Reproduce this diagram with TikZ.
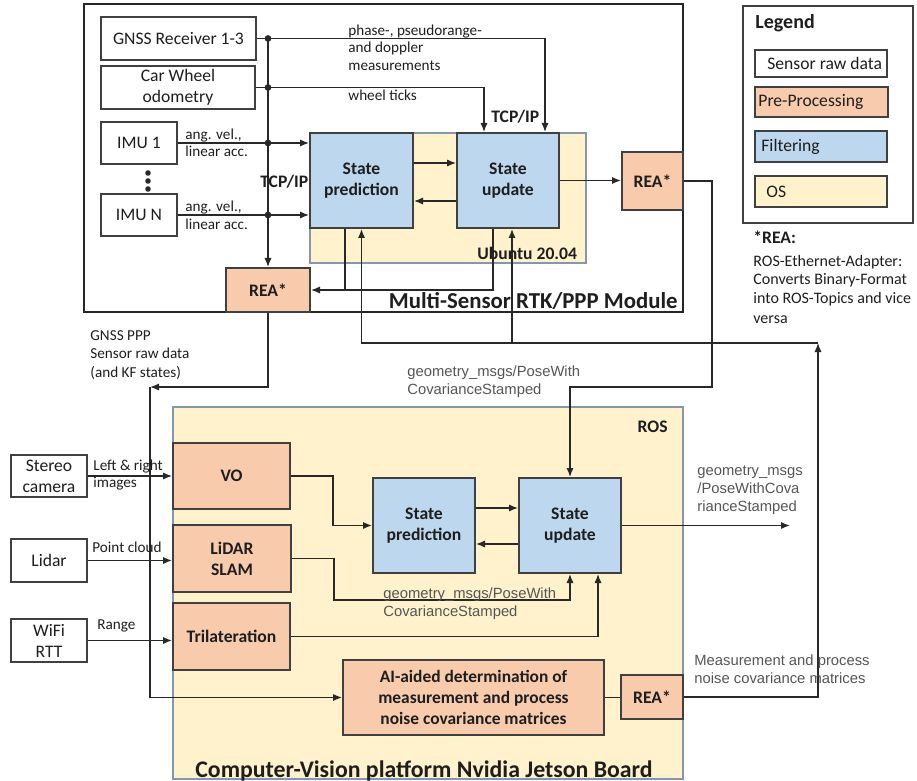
\documentclass[tikz,border=0pt]{standalone}
\usepackage{fontspec}
\setmainfont{Carlito}
\newfontfamily\arialf{Liberation Sans}
\usetikzlibrary{arrows.meta,calc}
\definecolor{preC}{RGB}{248,203,173}
\definecolor{filtC}{RGB}{189,215,238}
\definecolor{osC}{RGB}{255,242,204}
\definecolor{osB}{RGB}{132,151,176}
\definecolor{bordC}{RGB}{64,64,64}
\definecolor{lineC}{RGB}{40,40,40}
\definecolor{txtC}{RGB}{30,30,30}
\definecolor{grayT}{RGB}{85,85,85}
\newcommand\fsz[2]{\fontsize{#1}{#2}\selectfont}
\newcommand\rbox[7]{%
 \pgfmathsetmacro\rbX{(#3+#5)/2}%
 \pgfmathsetmacro\rbY{(#4+#6)/2}%
 \pgfmathsetmacro\rbW{(#5-#3)*0.5}%
 \pgfmathsetmacro\rbH{(#6-#4)*0.5}%
 \node[#1, minimum width=\rbW pt, minimum height=\rbH pt] (#2) at (\rbX,\rbY) {#7};}
\begin{document}
\begin{tikzpicture}[x=0.5pt,y=-0.5pt,
 raw/.style={draw=bordC, line width=1pt, fill=white, align=center, text=txtC, font=\fsz{8.8}{10.5}, inner sep=1pt},
 pre/.style={raw, fill=preC, font=\bfseries\fsz{8.8}{10.5}},
 filt/.style={raw, fill=filtC, font=\bfseries\fsz{8.8}{10.5}},
 osbox/.style={draw=osB, line width=0.9pt, fill=osC},
 modframe/.style={draw=black!85, line width=1pt},
 ln/.style={draw=lineC, line width=0.65pt},
 arr/.style={ln, -{Latex[length=4.5pt,width=3.6pt]}},
 lab/.style={anchor=base west, inner sep=0pt, text=txtC, font=\fsz{7.6}{9}},
 glab/.style={anchor=base west, inner sep=0pt, text=grayT, font=\arialf\fsz{7.4}{9}},
 blab/.style={anchor=base west, inner sep=0pt, text=txtC, font=\bfseries\fsz{8.8}{10.5}},
 ttl/.style={anchor=base west, inner sep=0pt, text=txtC, font=\bfseries\fsz{11.4}{13}},
 dotc/.style={fill=lineC}
]
\useasboundingbox (0,0) rectangle (917,781);
% containers
\rbox{modframe}{mod}{84}{4}{683}{312}{}
\rbox{osbox}{ubu}{310}{133}{586}{263}{}
\rbox{osbox}{ros}{173}{407}{683}{779}{}
\rbox{modframe, draw=bordC}{leg}{743}{6}{913}{223}{}
% sensor boxes
\rbox{raw}{gnss}{101}{17}{256}{60}{GNSS Receiver 1-3}
\rbox{raw}{odo}{101}{66}{255}{109}{Car Wheel\\odometry}
\rbox{raw}{imu1}{101}{122}{177}{164}{IMU 1}
\rbox{raw}{imun}{101}{194}{177}{236}{IMU N}
\rbox{filt}{sp1}{310}{133}{413}{228}{State\\prediction}
\rbox{filt}{su1}{457}{133}{559}{228}{State\\update}
\rbox{pre}{rea1}{226}{268}{310}{312}{REA*}
\rbox{pre}{rea2}{622}{152}{683}{210}{REA*}
\rbox{raw}{stereo}{11}{455}{87}{497}{Stereo\\camera}
\rbox{raw}{lidar}{11}{539}{87}{582}{Lidar}
\rbox{raw}{wifi}{11}{619}{87}{662}{WiFi\\RTT}
\rbox{pre}{vo}{173}{443}{290}{509}{VO}
\rbox{pre}{slam}{173}{525}{291}{592}{LiDAR\\SLAM}
\rbox{pre}{tri}{173}{603}{290}{670}{Trilateration}
\rbox{filt}{sp2}{373}{478}{475}{573}{State\\prediction}
\rbox{filt}{su2}{519}{478}{621}{573}{State\\update}
\rbox{pre, font=\bfseries\fsz{8.7}{10.6}}{ai}{343}{660}{604}{735}{AI-aided determination of\\measurement and process\\noise covariance matrices}
\rbox{pre}{rea3}{621}{675}{683}{719}{REA*}
% legend
\rbox{raw}{lraw}{755}{50}{887}{77}{}
\rbox{pre}{lpre}{755}{87}{888}{117}{}
\rbox{filt}{lfil}{755}{131}{887}{162}{}
\rbox{raw, fill=osC}{los}{755}{176}{887}{207}{}
\node[ttl, font=\bfseries\fsz{10}{12}] (legt) at (755,29) {Legend};
\node[anchor=west, inner sep=0pt, text=txtC, font=\fsz{8.8}{10.5}] (lrawt) at (767,63.5) {Sensor raw data};
\node[anchor=west, inner sep=0pt, text=txtC, font=\fsz{8.8}{10.5}] (lpret) at (758,102) {Pre-Processing};
\node[anchor=west, inner sep=0pt, text=txtC, font=\fsz{8.8}{10.5}] (lfilt) at (761,146.5) {Filtering};
\node[anchor=west, inner sep=0pt, text=txtC, font=\fsz{8.8}{10.5}] (lost) at (766,191.5) {OS};
\node[blab] (rea0) at (753,243) {*REA:};
\node[lab, font=\fsz{8}{10}] (reaA) at (753,266) {ROS-Ethernet-Adapter:};
\node[lab, font=\fsz{8}{10}] (reaB) at (753,285) {Converts Binary-Format};
\node[lab, font=\fsz{8}{10}] (reaC) at (753,304) {into ROS-Topics and vice};
\node[lab, font=\fsz{8}{10}] (reaD) at (753,323) {versa};
% connectors upper module
\draw[arr] (gnss.east) -| ($(su1.north)+(37,0)$);
\draw[arr] (odo.east) -| ($(su1.north)+(-24,0)$);
\draw[arr] (imu1.east) -- (imu1.east -| sp1.west);
\draw[arr] (imun.east) -- (imun.east -| sp1.west);
\draw[arr] (gnss.east -| rea1.north) -- (rea1.north);
\fill[dotc] (gnss.east -| rea1.north) circle (1.7pt);
\fill[dotc] (odo.east -| rea1.north) circle (1.7pt);
\fill[dotc] (imu1.east -| rea1.north) circle (1.7pt);
\fill[dotc] (imun.east -| rea1.north) circle (1.7pt);
\fill[dotc] (148,173) circle (1.4pt);
\fill[dotc] (148,181) circle (1.4pt);
\fill[dotc] (148,189) circle (1.4pt);
\draw[arr] ($(sp1.east)+(0,-17.5)$) -- ($(su1.west)+(0,-17.5)$);
\draw[arr] ($(su1.west)+(0,20.5)$) -- ($(sp1.east)+(0,20.5)$);
\draw[arr] (su1.east) -- (su1.east -| rea2.west);
\coordinate (c1) at (712,387);
\draw[arr] (rea2.east) -| (c1) -| (su2.north);
\draw[arr] ($(su1.south)+(-15,0)$) |- (rea1.east);
\coordinate (spb) at ($(sp1.south)+(-16.5,0)$);
\draw[ln] (spb) -- (spb |- rea1.east);
\coordinate (c2) at (818,343);
\coordinate (sub) at ($(su1.south)+(4,0)$);
\draw[arr] (rea3.east) -| (c2);
\draw[arr] (c2) -| (sp1.south);
\draw[arr] (c2 -| sub) -- (sub);
\coordinate (c3) at (150,387);
\draw[arr] (rea1.south) |- (c3);
\draw[arr] (c3) |- (ai.west);
% lower connectors
\draw[arr] (stereo.east) -- (stereo.east -| vo.west);
\draw[arr] (lidar.east) -- (lidar.east -| slam.west);
\draw[arr] (wifi.east) -- (wifi.east -| tri.west);
\draw[arr] (vo.east) -- ++(42,0) |- (sp2.west);
\coordinate (c4) at (570,600);
\draw[arr] (slam.east) -- ++(42,0) |- (c4) -- (su2.south);
\draw[arr] (tri.east) -| ($(su2.south)+(28,0)$);
\draw[arr] ($(sp2.east)+(0,-17.5)$) -- ($(su2.west)+(0,-17.5)$);
\draw[arr] ($(su2.west)+(0,18.5)$) -- ($(sp2.east)+(0,18.5)$);
\coordinate (c5) at (790,525.5);
\draw[arr] (su2.east) -- (c5);
\draw[ln] (ai.east) -- (ai.east -| rea3.west);
% labels
\node[lab] (l1a) at (348,36) {phase-, pseudorange-};
\node[lab] (l1b) at (348,53) {and doppler};
\node[lab] (l1c) at (348,71) {measurements};
\node[lab] (l2) at (348,101) {wheel ticks};
\node[lab] (l3a) at (185,140) {ang. vel.,};
\node[lab] (l3b) at (185,157) {linear acc.};
\node[lab] (l4a) at (185,212) {ang. vel.,};
\node[lab] (l4b) at (185,230) {linear acc.};
\node[blab] (tcp1) at (260,188) {TCP/IP};
\node[blab] (tcp2) at (491,123) {TCP/IP};
\node[blab] (ubut) at (477,260) {Ubuntu 20.04};
\node[ttl, anchor=base east] (modt) at (678,308) {Multi-Sensor RTK/PPP Module};
\node[lab] (g1) at (90,340) {GNSS PPP};
\node[lab] (g2) at (90,358) {Sensor raw data};
\node[lab] (g3) at (90,377) {(and KF states)};
\node[glab] (p1a) at (407,376) {geometry\_msgs/PoseWith};
\node[glab] (p1b) at (407,394) {CovarianceStamped};
\node[blab, anchor=base east] (rost) at (668,432) {ROS};
\node[lab] (s1a) at (93,470) {Left \& right};
\node[lab] (s1b) at (93,487) {images};
\node[lab] (s2) at (92,552) {Point cloud};
\node[lab] (s3) at (97,629) {Range};
\node[glab] (p2a) at (383,598) {geometry\_msgs/PoseWith};
\node[glab] (p2b) at (383,616) {CovarianceStamped};
\node[glab] (p3a) at (697,475) {geometry\_msgs};
\node[glab] (p3b) at (697,493) {/PoseWithCova};
\node[glab] (p3c) at (697,511) {rianceStamped};
\node[glab] (m1) at (694,665) {Measurement and process};
\node[glab] (m2) at (694,683) {noise covariance matrices};
\node[ttl, font=\bfseries\fsz{11.9}{14}] (jet) at (195,777) {Computer-Vision platform Nvidia Jetson Board};
\end{tikzpicture}
\end{document}
